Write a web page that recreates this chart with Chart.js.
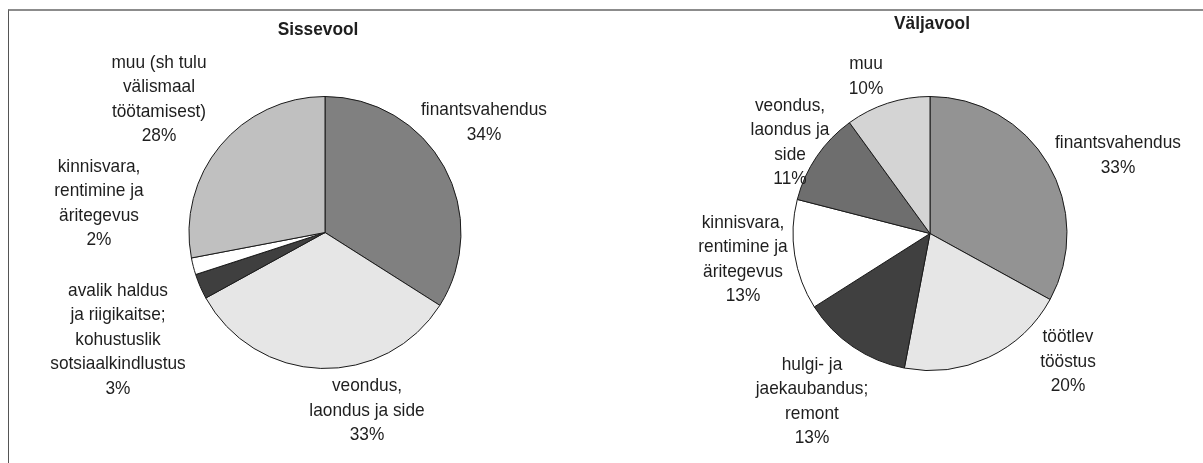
<!DOCTYPE html>
<html>
<head>
<meta charset="utf-8">
<script src="https://cdn.jsdelivr.net/npm/chart.js@4/dist/chart.umd.min.js"></script>
<style>
  body { margin: 0; background: #fff; width: 1203px; height: 463px; position: relative; overflow: hidden; }
  #frame { position: absolute; left: 8px; top: 9px; width: 1300px; height: 600px;
           border-left: 1px solid #555; border-top: 2px solid #8c8c8c; box-sizing: border-box; }
  #wrapIn { position: absolute; left: 0; top: 0; width: 620px; height: 463px; }
  #wrapOut { position: absolute; left: 620px; top: 0; width: 583px; height: 463px; }
</style>
</head>
<body>
<div id="frame"></div>
<div id="wrapIn"><canvas id="canvasIn"></canvas></div>
<div id="wrapOut"><canvas id="canvasOut"></canvas></div>
<script>
// Sissevool
var categoriesIn = [
  ["finantsvahendus"],
  ["veondus,", "laondus ja side"],
  ["avalik haldus", "ja riigikaitse;", "kohustuslik", "sotsiaalkindlustus"],
  ["kinnisvara,", "rentimine ja", "äritegevus"],
  ["muu (sh tulu", "välismaal", "töötamisest)"]
];
var valuesIn = [34, 33, 3, 2, 28];
var colorsIn = ["#808080", "#e6e6e6", "#3f3f3f", "#ffffff", "#c0c0c0"];

// Väljavool
var categoriesOut = [
  ["finantsvahendus"],
  ["töötlev", "tööstus"],
  ["hulgi- ja", "jaekaubandus;", "remont"],
  ["kinnisvara,", "rentimine ja", "äritegevus"],
  ["veondus,", "laondus ja", "side"],
  ["muu"]
];
var valuesOut = [33, 20, 13, 13, 11, 10];
var colorsOut = ["#939393", "#e6e6e6", "#404040", "#ffffff", "#6e6e6e", "#d4d4d4"];

// label placement relative to the pie centre (layout only)
var labelOffsetIn = [[159, -110], [42, 178], [-207, 107], [-226, -29], [-166, -133]];
var labelOffsetOut = [[188, -78], [138, 128], [-118, 168], [-187, 26], [-140, -91], [-64, -157]];

var FONT = "Liberation Sans, Arial, sans-serif";
var SQUEEZE = 0.91;
var LINE_H = 24.5;

function drawText(ctx, txt, x, y, font) {
  ctx.save();
  ctx.font = font;
  ctx.translate(x, y);
  ctx.scale(SQUEEZE, 1);
  ctx.fillText(txt, 0, 0);
  ctx.restore();
}

function pieLabels(offsets, title, titleOffset) {
  return {
    id: 'pieLabels',
    afterDraw: function(chart) {
      var ctx = chart.ctx;
      var meta = chart.getDatasetMeta(0);
      var data = chart.data.datasets[0].data;
      var cx = meta.data[0].x, cy = meta.data[0].y;
      ctx.save();
      ctx.fillStyle = "#1e1e1e";
      ctx.textAlign = "center";
      ctx.textBaseline = "middle";
      meta.data.forEach(function(arc, i) {
        var lines = chart.data.labels[i].concat([data[i] + "%"]);
        var bx = cx + offsets[i][0];
        var by = cy + offsets[i][1] - (lines.length - 1) * LINE_H / 2;
        lines.forEach(function(l, j) {
          drawText(ctx, l, bx, by + j * LINE_H, "19px " + FONT);
        });
      });
      drawText(ctx, title, cx + titleOffset[0], cy + titleOffset[1], "bold 19px " + FONT);
      ctx.restore();
    }
  };
}

function makePie(id, labels, values, colors, radius, padding, offsets, title, titleOffset) {
  return new Chart(document.getElementById(id), {
    type: 'pie',
    data: {
      labels: labels,
      datasets: [{
        data: values,
        backgroundColor: colors,
        borderColor: "#1a1a1a",
        borderWidth: 1,
        radius: radius
      }]
    },
    options: {
      responsive: true,
      maintainAspectRatio: false,
      animation: false,
      layout: { padding: padding },
      plugins: {
        legend: { display: false },
        tooltip: { enabled: false }
      }
    },
    plugins: [pieLabels(offsets, title, titleOffset)]
  });
}

makePie("canvasIn", categoriesIn, valuesIn, colorsIn, 136,
  { left: 189, right: 159, top: 96, bottom: 94 },
  labelOffsetIn, "Sissevool", [-7, -203]);

makePie("canvasOut", categoriesOut, valuesOut, colorsOut, 137,
  { left: 173, right: 136, top: 97, bottom: 93 },
  labelOffsetOut, "Väljavool", [2, -210]);
</script>
</body>
</html>
